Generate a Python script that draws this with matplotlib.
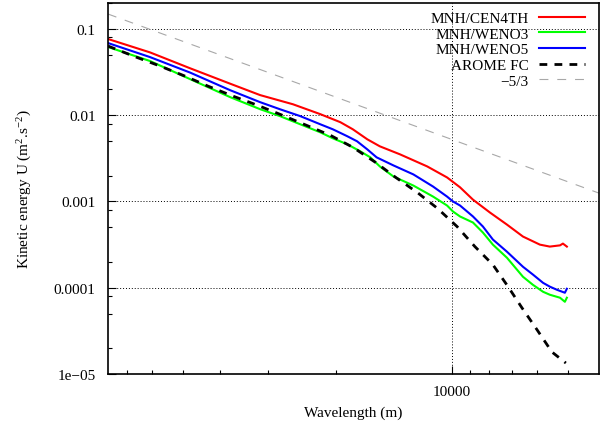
import numpy as np
import matplotlib
matplotlib.use('Agg')
import matplotlib.pyplot as plt
from matplotlib.ticker import FixedLocator, LogLocator, NullFormatter

plt.rcParams['font.family'] = ['Liberation Serif', 'DejaVu Serif']
plt.rcParams['mathtext.fontset'] = 'custom'
plt.rcParams['mathtext.rm'] = 'Liberation Serif'
plt.rcParams['mathtext.it'] = 'Liberation Serif:italic'

# spectres d'energie cinetique
wl_cen4th = [78300, 60900, 47900, 37700, 31500, 25900, 22000, 19500, 18100, 16600,
             15400, 13650, 11600, 10300, 9530, 8820, 7970, 7200, 6540, 5910,
             5570, 5240, 5150, 5030]
e_cen4th = [0.0765, 0.0535, 0.0350, 0.0232, 0.0171, 0.0134, 0.0103, 0.0083, 0.00687, 0.00526,
            0.00436, 0.00352, 0.00255, 0.0019, 0.00146, 0.00105, 0.000745, 0.00054, 0.000392, 0.000316,
            0.0003, 0.00031, 0.000325, 0.0003]

wl_weno5 = [78300, 60900, 47900, 37700, 31500, 28000, 24800, 22000, 20400, 18700,
            17650, 16600, 15700, 14200, 12600, 11200, 10300, 9940, 9530, 8820,
            8310, 7830, 7200, 6540, 6160, 5800, 5570, 5340, 5090, 5030]
e_weno5 = [0.0687, 0.0472, 0.0312, 0.0195, 0.01416, 0.01174, 0.00977, 0.00786, 0.00687, 0.0057,
           0.00499, 0.00402, 0.00325, 0.00262, 0.00206, 0.00149, 0.00114, 0.001, 0.000898, 0.00067,
           0.000512, 0.000362, 0.000262, 0.000175, 0.000142, 0.000114, 0.000103, 0.0000948, 0.0000875, 0.0000973]

wl_weno3 = [78300, 60900, 47900, 37700, 31500, 28000, 24800, 22000, 20400, 18700,
            17300, 16300, 15400, 14200, 12600, 11200, 10300, 9940, 9530, 8820,
            8310, 7830, 7200, 6540, 6160, 5800, 5570, 5240, 5090, 5030]
e_weno3 = [0.0618, 0.0425, 0.0262, 0.0162, 0.01174, 0.00977, 0.00786, 0.00634, 0.0054, 0.0046,
           0.00381, 0.00325, 0.00255, 0.00195, 0.00153, 0.00114, 0.000898, 0.000765, 0.00067, 0.00057,
           0.000436, 0.000316, 0.000223, 0.000134, 0.000108, 0.0000898, 0.000083, 0.0000766, 0.0000687, 0.0000766]

wl_arome = [78300, 66200, 57300, 49400, 43000, 37000, 32100, 27600, 23900, 20700,
            18100, 15800, 14000, 12300, 10900, 9700, 8720, 7830, 7150, 6580,
            6010, 5500, 5060]
e_arome = [0.0634, 0.0472, 0.0371, 0.0284, 0.0217, 0.0166, 0.0131, 0.01, 0.00765, 0.00585,
           0.00425, 0.00284, 0.0019, 0.00127, 0.00083, 0.000512, 0.0003, 0.000185, 0.000103, 0.0000585,
           0.0000325, 0.000018, 0.0000134]

# droite de reference en -5/3
wl_ref = [78300, 4150]
e_ref = [0.149, 0.00125]

ytick_vals = [1e-5, 1e-4, 1e-3, 1e-2, 1e-1]
ytick_labels = ['1e\u221205', '0.0001', '0.001', '0.01', '0.1']

fig = plt.figure(figsize=(6, 4.27), dpi=100)
ax = fig.add_axes([108/600, 1 - 375/427, 491/600, 371/427])

ax.plot(wl_cen4th, e_cen4th, color='#ff0000', lw=1.5, label='MNH/CEN4TH')
ax.plot(wl_weno3, e_weno3, color='#00ff00', lw=1.5, label='MNH/WENO3')
ax.plot(wl_weno5, e_weno5, color='#0000ff', lw=1.5, label='MNH/WENO5')
ax.plot(wl_arome, e_arome, color='black', lw=2, ls=(0, (2.8, 2.6)), label='AROME FC')
ax.plot(wl_ref, e_ref, color='#a8a8a8', lw=0.8, ls=(0, (8, 8)), label='\u22125/3')

ax.set_xscale('log')
ax.set_yscale('log')
ax.set_xlim(78300, 4150)
ax.set_ylim(1e-5, 0.2)

ax.yaxis.set_major_locator(FixedLocator(ytick_vals))
ax.set_yticklabels(ytick_labels)
ax.yaxis.set_minor_locator(LogLocator(base=10, subs=[2, 5, 8], numticks=20))
ax.yaxis.set_minor_formatter(NullFormatter())
ax.xaxis.set_major_locator(FixedLocator([10000]))
ax.set_xticklabels(['10000'])
ax.xaxis.set_minor_locator(LogLocator(base=10, subs=np.arange(2, 10), numticks=20))
ax.xaxis.set_minor_formatter(NullFormatter())

ax.tick_params(which='both', direction='in', labelsize=11)
ax.tick_params(which='major', length=6, width=0.8)
ax.tick_params(which='minor', length=3, width=0.8)
ax.tick_params(axis='y', pad=9)
ax.tick_params(axis='x', pad=8)
ax.grid(True, which='major', color='black', ls=(0, (1, 2)), lw=0.7)

for sp in ax.spines.values():
    sp.set_linewidth(1.2)

ax.set_xlabel('Wavelength (m)', fontsize=11, labelpad=5)
ax.set_ylabel('Kinetic energy U (m$^{2}$.s$^{-2}$)', fontsize=11, labelpad=14)

ax.legend(loc='upper right', bbox_to_anchor=(0.9715, 0.978), frameon=False, fontsize=11,
          markerfirst=False, handlelength=3.0, handletextpad=0.7, labelspacing=0.13,
          borderpad=0, borderaxespad=0)

fig.savefig('out.png', dpi=100)
